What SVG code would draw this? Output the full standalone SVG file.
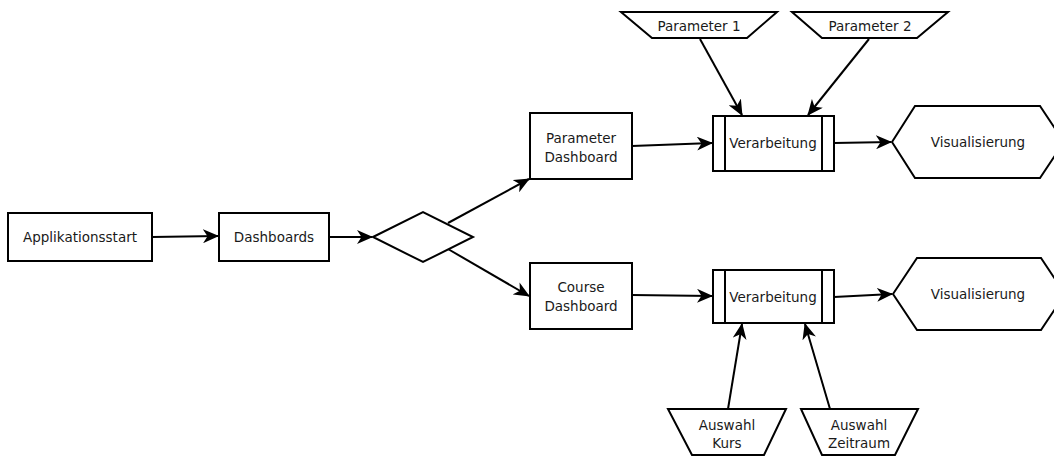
<svg xmlns="http://www.w3.org/2000/svg" width="1054" height="456" viewBox="0 0 1054 456">
  <style>
    .shape { fill: #ffffff; stroke: #000000; stroke-width: 2; }
    .edge { fill: none; stroke: #000000; stroke-width: 2; marker-end: url(#arrow); }
    .label { font-family: "DejaVu Sans", Verdana, sans-serif; font-size: 13.5px; fill: #1a1a1a; text-anchor: middle; }
  </style>
  <defs>
    <marker id="arrow" markerUnits="userSpaceOnUse" markerWidth="16" markerHeight="14" viewBox="0 0 16 14" refX="15" refY="7" orient="auto">
      <path d="M0,0 L16,7 L0,14 L4.5,7 z" fill="#000000"/>
    </marker>
  </defs>
  <rect width="1054" height="456" fill="#ffffff"/>

  <!-- connectors -->
  <g id="connectors">
    <line class="edge" x1="152" y1="237" x2="218" y2="236"/>
    <line class="edge" x1="329" y1="237" x2="372" y2="237"/>
    <line class="edge" x1="448" y1="223" x2="529" y2="179"/>
    <line class="edge" x1="448" y1="249" x2="529" y2="296"/>
    <line class="edge" x1="632" y1="146" x2="712" y2="143"/>
    <line class="edge" x1="632" y1="295" x2="712" y2="296"/>
    <line class="edge" x1="834" y1="143" x2="891" y2="142"/>
    <line class="edge" x1="834" y1="297" x2="892" y2="294"/>
    <line class="edge" x1="700" y1="39" x2="742" y2="115"/>
    <line class="edge" x1="869" y1="39" x2="808" y2="115"/>
    <line class="edge" x1="728" y1="409" x2="742" y2="324"/>
    <line class="edge" x1="830" y1="409" x2="805" y2="324"/>
  </g>

  <g id="applikationsstart">
    <rect class="shape" x="8" y="213" width="144" height="48"/>
    <text class="label" x="80" y="242">Applikationsstart</text>
  </g>

  <g id="dashboards">
    <rect class="shape" x="219" y="213" width="110" height="48"/>
    <text class="label" x="274" y="242">Dashboards</text>
  </g>

  <g id="decision">
    <polygon class="shape" points="373,237 423,212 473,237 423,262"/>
  </g>

  <g id="parameter-dashboard">
    <rect class="shape" x="530" y="113" width="102" height="66"/>
    <text class="label" x="581" y="143">Parameter</text>
    <text class="label" x="581" y="162">Dashboard</text>
  </g>

  <g id="course-dashboard">
    <rect class="shape" x="530" y="263" width="102" height="66"/>
    <text class="label" x="581" y="292">Course</text>
    <text class="label" x="581" y="311">Dashboard</text>
  </g>

  <g id="verarbeitung-top">
    <rect class="shape" x="713" y="116" width="121" height="55"/>
    <line class="shape" x1="725" y1="116" x2="725" y2="171"/>
    <line class="shape" x1="822" y1="116" x2="822" y2="171"/>
    <text class="label" x="773" y="148">Verarbeitung</text>
  </g>

  <g id="verarbeitung-bottom">
    <rect class="shape" x="713" y="270" width="121" height="53"/>
    <line class="shape" x1="725" y1="270" x2="725" y2="323"/>
    <line class="shape" x1="822" y1="270" x2="822" y2="323"/>
    <text class="label" x="773" y="302">Verarbeitung</text>
  </g>

  <g id="visualisierung-top">
    <polygon class="shape" points="892,142 915,106 1040,106 1064,142 1040,178 915,178"/>
    <text class="label" x="978" y="147">Visualisierung</text>
  </g>

  <g id="visualisierung-bottom">
    <polygon class="shape" points="893,294 917,258 1041,258 1065,294 1041,330 917,330"/>
    <text class="label" x="978" y="299">Visualisierung</text>
  </g>

  <g id="parameter-1">
    <polygon class="shape" points="621,12 777,12 747,38 652,38"/>
    <text class="label" x="699" y="31">Parameter 1</text>
  </g>

  <g id="parameter-2">
    <polygon class="shape" points="792,12 948,12 917,38 822,38"/>
    <text class="label" x="870" y="31">Parameter 2</text>
  </g>

  <g id="auswahl-kurs">
    <polygon class="shape" points="668,409 786,409 764,455 692,455"/>
    <text class="label" x="727" y="430">Auswahl</text>
    <text class="label" x="727" y="448">Kurs</text>
  </g>

  <g id="auswahl-zeitraum">
    <polygon class="shape" points="801,409 918,409 895,455 822,455"/>
    <text class="label" x="859" y="430">Auswahl</text>
    <text class="label" x="859" y="448">Zeitraum</text>
  </g>
</svg>
